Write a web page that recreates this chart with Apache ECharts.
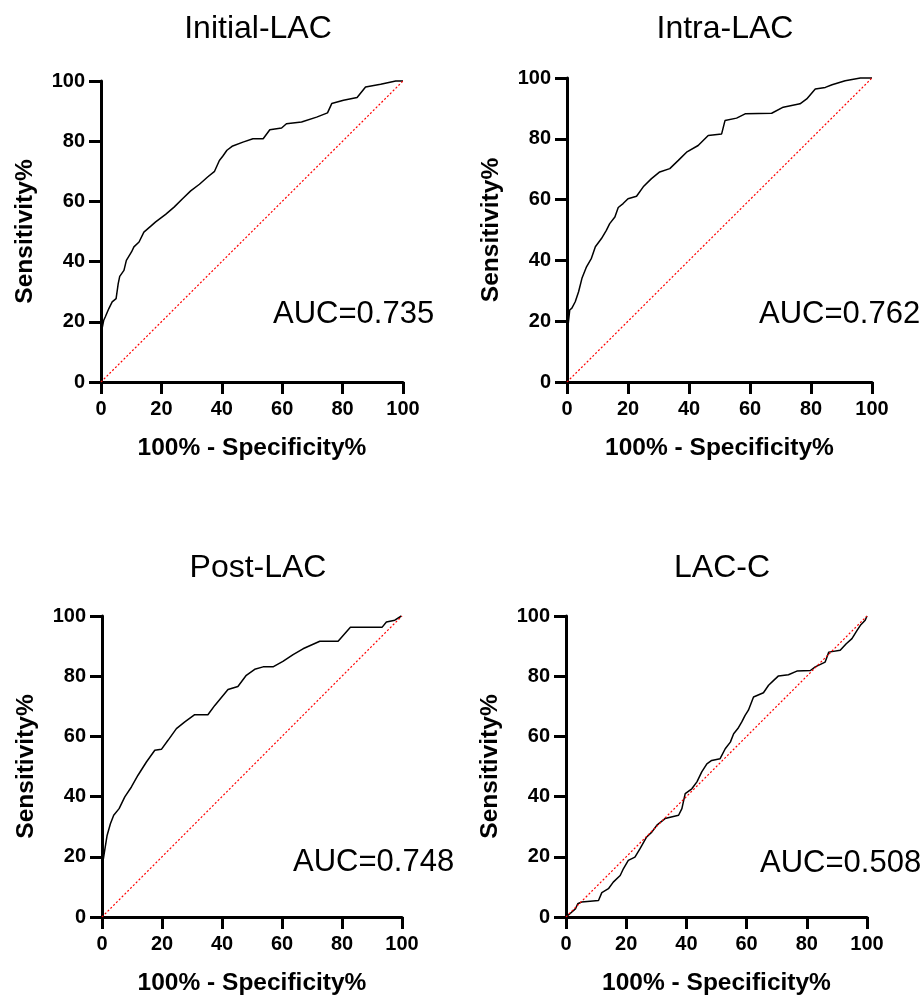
<!DOCTYPE html>
<html><head><meta charset="utf-8">
<script src="https://cdn.jsdelivr.net/npm/echarts@6/dist/echarts.min.js"></script>
<style>html,body{margin:0;padding:0;background:#fff}#c{width:924px;height:997px}</style>
</head><body><div id="c"></div>
<script>
const panelTitles = ['Initial-LAC', 'Intra-LAC', 'Post-LAC', 'LAC-C'];
const aucLabels = ['AUC=0.735', 'AUC=0.762', 'AUC=0.748', 'AUC=0.508'];
const xAxisName = '100% - Specificity%';
const yAxisName = 'Sensitivity%';
const diagX = [0, 100];
const diagY = [0, 100];

const initialFpr = [0, 0, 0.9, 1.4, 2.6, 3.7, 5.0, 5.7, 6.2, 7.6, 8.4, 10.1, 10.9, 12.6, 14.2, 16.4, 18.1, 21.4, 24.2, 27.0, 29.7, 32.6, 35.3, 37.6, 39.2, 40.3, 41.7, 43.4, 47.0, 50.3, 53.7, 55.9, 59.8, 61.4, 66.4, 71.4, 75.0, 76.4, 80.3, 84.8, 87.6, 92.6, 97.6, 100];
const initialSens = [0, 16, 20.5, 21.6, 24.4, 26.6, 27.7, 32.7, 35.1, 37.1, 40.4, 43.2, 44.9, 46.5, 49.8, 51.7, 53.2, 55.7, 58.1, 60.9, 63.5, 65.7, 68.1, 70.0, 73.6, 75.0, 77.0, 78.3, 79.7, 80.8, 80.8, 83.8, 84.4, 85.8, 86.4, 88.0, 89.4, 92.5, 93.6, 94.5, 98.0, 98.9, 100, 100];

const intraFpr = [0, 0, 0.9, 1.6, 2.7, 3.8, 4.9, 6.4, 8.0, 9.3, 11.3, 12.9, 14.0, 15.7, 16.8, 18.4, 20.0, 22.8, 25.0, 27.7, 30.4, 33.7, 36.5, 39.2, 43.0, 46.3, 50.7, 51.8, 55.6, 58.4, 67.1, 70.9, 76.4, 78.6, 81.4, 84.7, 86.9, 91.2, 96.2, 100];
const intraSens = [0, 15.5, 23.7, 24.3, 26.4, 29.7, 34.1, 37.9, 40.7, 44.5, 47.2, 49.9, 52.1, 54.3, 57.4, 58.7, 60.3, 61.1, 64.2, 66.9, 69.1, 70.2, 72.9, 75.6, 77.8, 81.1, 81.6, 86.0, 86.8, 88.2, 88.4, 90.4, 91.5, 93.1, 96.4, 96.9, 97.8, 99.1, 100, 100];

const postFpr = [0, 0, 0.3, 0.9, 1.7, 2.8, 3.9, 5.7, 7.6, 9.8, 12.0, 14.8, 17.6, 19.8, 22.0, 24.8, 27.6, 30.9, 35.3, 37.6, 42.0, 45.3, 48.1, 50.9, 53.7, 57.0, 60.3, 63.7, 67.0, 72.6, 78.7, 82.8, 93.4, 94.8, 97.6, 99.8, 100];
const postSens = [0, 13.8, 18.3, 22.1, 27.1, 31.0, 33.8, 36.0, 39.9, 43.2, 47.1, 51.5, 55.4, 55.7, 58.7, 62.6, 64.8, 67.2, 67.2, 70.3, 75.6, 76.6, 80.3, 82.3, 83.1, 83.1, 84.9, 87.2, 89.1, 91.6, 91.6, 96.3, 96.3, 98.0, 98.6, 100, 100];

const lacCFpr = [0, 1.3, 3.2, 3.9, 5.2, 10.8, 11.9, 14.1, 15.7, 18.0, 19.1, 20.7, 22.9, 24.6, 26.8, 28.5, 30.2, 32.9, 37.4, 38.5, 39.6, 41.8, 43.5, 45.1, 46.8, 48.4, 51.2, 52.9, 54.6, 55.7, 57.1, 58.4, 59.5, 60.6, 62.3, 65.6, 67.3, 69.0, 70.6, 73.9, 76.7, 81.2, 82.8, 86.1, 87.3, 91.1, 93.1, 95.0, 96.7, 97.8, 99.4, 100];
const lacCSens = [0, 1.1, 2.8, 4.4, 5.0, 5.5, 8.1, 9.4, 11.6, 13.8, 16.1, 18.8, 19.9, 22.7, 26.6, 28.2, 30.5, 32.7, 33.8, 36.0, 41.0, 42.6, 44.9, 48.2, 50.9, 52.0, 52.6, 55.9, 58.1, 60.9, 62.6, 64.8, 67.0, 68.7, 73.1, 74.5, 77.0, 78.6, 80.1, 80.5, 81.7, 81.9, 83.1, 84.7, 88.0, 88.6, 90.8, 92.5, 95.2, 96.9, 98.6, 100];

const curvesX = [initialFpr, intraFpr, postFpr, lacCFpr];
const curvesY = [initialSens, intraSens, postSens, lacCSens];

const FONT = "'Liberation Sans', Arial, Helvetica, sans-serif";
const grids = [
  {left: 101, top: 81, width: 302, height: 301},
  {left: 567, top: 78, width: 305, height: 304},
  {left: 102, top: 616, width: 300, height: 301},
  {left: 566, top: 616, width: 301, height: 301}
];
const titlePos = [
  {cx: 253, top: 8}, {cx: 720, top: 8}, {cx: 253, top: 547}, {cx: 717, top: 547}
];
const aucPos = [
  {x: 273, y: 299}, {x: 759, y: 299}, {x: 293, y: 847}, {x: 760, y: 848}
];

const zip = (a, b) => a.map((v, i) => [v, b[i]]);

const axisCommon = {
  type: 'value', min: 0, max: 100, interval: 20,
  axisLine: {show: true, onZero: false, lineStyle: {color: '#000', width: 3}},
  axisTick: {show: true, length: 12, lineStyle: {color: '#000', width: 3}},
  splitLine: {show: false},
  nameLocation: 'middle',
  nameTextStyle: {color: '#000', fontFamily: FONT, fontWeight: 'bold', fontSize: 24.5}
};

const option = {
  animation: false,
  backgroundColor: '#fff',
  title: panelTitles.map((t, i) => ({
    text: t, left: titlePos[i].cx, top: titlePos[i].top, textAlign: 'center',
    textStyle: {fontFamily: FONT, fontWeight: 'normal', fontSize: 32, color: '#000'}
  })),
  grid: grids,
  xAxis: grids.map((g, i) => Object.assign({}, axisCommon, {
    gridIndex: i, name: xAxisName, nameGap: 54,
    axisLabel: {color: '#000', fontFamily: FONT, fontWeight: 'bold', fontSize: 20, margin: 17}
  })),
  yAxis: grids.map((g, i) => Object.assign({}, axisCommon, {
    gridIndex: i, name: yAxisName, nameGap: 63,
    axisLabel: {color: '#000', fontFamily: FONT, fontWeight: 'bold', fontSize: 20, margin: 16}
  })),
  graphic: aucLabels.map((t, i) => ({
    type: 'text', x: aucPos[i].x, y: aucPos[i].y,
    style: {text: t, fontFamily: FONT, fontSize: 31, fill: '#000', textVerticalAlign: 'top'}
  })),
  series: []
};

for (let i = 0; i < 4; i++) {
  option.series.push({
    type: 'line', xAxisIndex: i, yAxisIndex: i,
    data: zip(curvesX[i], curvesY[i]),
    showSymbol: false, symbol: 'none', clip: false,
    lineStyle: {color: '#000', width: 1.5}, z: 2
  });
  option.series.push({
    type: 'line', xAxisIndex: i, yAxisIndex: i,
    data: zip(diagX, diagY),
    showSymbol: false, symbol: 'none',
    lineStyle: {color: '#ff0000', width: 1.2, type: [2, 2]}, z: 3
  });
}

const chart = echarts.init(document.getElementById('c'), null, {renderer: 'canvas'});
chart.setOption(option);
</script>
</body></html>
